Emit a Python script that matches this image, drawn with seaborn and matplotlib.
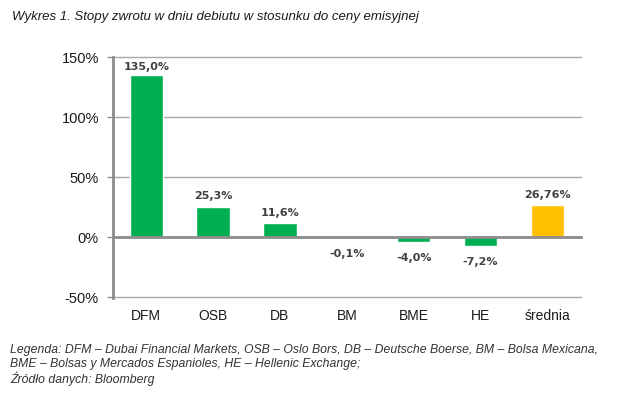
import matplotlib
matplotlib.use("Agg")
import matplotlib.pyplot as plt
import numpy as np
import pandas as pd
import seaborn as sns
from matplotlib.ticker import FuncFormatter

sns.set_theme(style="white")
plt.rcParams["font.family"] = ["Liberation Sans", "DejaVu Sans"]

# data
exchanges = ["DFM", "OSB", "DB", "BM", "BME", "HE", "średnia"]
returns = [135.0, 25.3, 11.6, -0.1, -4.0, -7.2, 26.76]
value_labels = ["135,0%", "25,3%", "11,6%", "-0,1%", "-4,0%", "-7,2%", "26,76%"]
bar_colors = ["#00b050"] * 6 + ["#ffc000"]

df = pd.DataFrame({"exchange": exchanges, "ret": returns})

fig = plt.figure(figsize=(6.34, 3.96), dpi=100)
ax = fig.add_axes([0.178, 0.247, 0.738, 0.609])

sns.barplot(data=df, x="exchange", y="ret", hue="exchange",
            palette=bar_colors, width=0.5, saturation=1, legend=False, ax=ax)

ax.set_ylim(-50.6, 150)
ax.set_xlim(-0.5, len(exchanges) - 0.5)
ax.set_yticks([-50, 0, 50, 100, 150])
ax.yaxis.set_major_formatter(FuncFormatter(lambda v, p: f"{v:.0f}%"))
ax.grid(axis="y", color="#a6a6a6", linewidth=1)
for gl in ax.get_ygridlines():
    gl.set_clip_on(False)
ax.set_axisbelow(True)
ax.set_xlabel("")
ax.set_ylabel("")

# value labels, bold, above positive / below negative bars
for i, cont in enumerate(ax.containers):
    if i == 0:
        pad = 2
    elif returns[i] < 0:
        pad = 8
    else:
        pad = 4
    ax.bar_label(cont, labels=[value_labels[i]], padding=pad,
                 fontsize=8, fontweight="bold", color="#404040",
                 family="DejaVu Sans")

# spines: y axis grey, zero line carries category separators
for s in ["top", "right"]:
    ax.spines[s].set_visible(False)
ax.spines["left"].set_color("#8c8c8c")
ax.spines["left"].set_linewidth(2)
ax.spines["bottom"].set_position(("data", 0))
ax.spines["bottom"].set_color("#8c8c8c")
ax.spines["bottom"].set_linewidth(2)
ax.set_xticks(np.arange(len(exchanges)))
ax.set_xticks(np.arange(len(exchanges)) + 0.5, minor=True)
ax.tick_params(axis="x", which="major", length=0, labelbottom=False)
ax.tick_params(axis="x", which="minor", direction="in", length=4,
               color="#8c8c8c", width=1)
ax.tick_params(axis="y", which="major", length=4, color="#8c8c8c",
               width=1, left=True, labelsize=10.5, labelcolor="#1a1a1a", pad=6)

sec = ax.secondary_xaxis(0.0)
sec.set_xticks(np.arange(len(exchanges)))
sec.set_xticklabels(exchanges)
sec.tick_params(length=0, labelsize=10, labelcolor="#1a1a1a", pad=8)
sec.spines["bottom"].set_visible(False)

fig.text(0.019, 0.957, "Wykres 1. Stopy zwrotu w dniu debiutu w stosunku do ceny emisyjnej",
         fontsize=9.5, style="italic", color="#1a1a1a", va="center")
footer = ("Legenda: DFM – Dubai Financial Markets, OSB – Oslo Bors, DB – Deutsche Boerse, BM – Bolsa Mexicana,\n"
          "BME – Bolsas y Mercados Espanioles, HE – Hellenic Exchange;\n"
          "Źródło danych: Bloomberg")
fig.text(0.016, 0.078, footer, fontsize=8.8, style="italic", color="#333333",
         va="center", linespacing=1.2)

fig.savefig("out.png", dpi=100)
